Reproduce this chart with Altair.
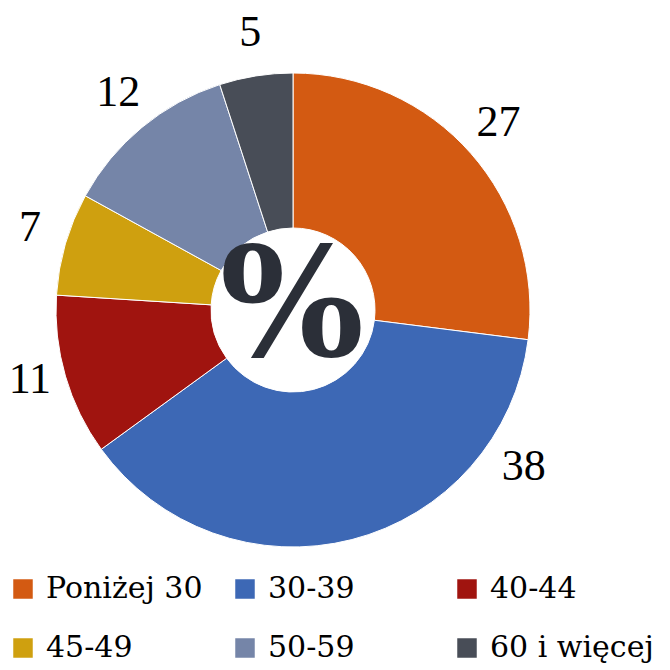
import altair as alt
import pandas as pd

categories = ["Poniżej 30", "30-39", "40-44", "45-49", "50-59", "60 i więcej"]
values = [27, 38, 11, 7, 12, 5]
colors = ["#D35A12", "#3D68B5", "#A0140F", "#CFA00F", "#7585A8", "#484D57"]
center_label = ["%"]

df = pd.DataFrame({"kategoria": categories, "wartosc": values, "kolejnosc": list(range(len(values)))})
center_df = pd.DataFrame({"t": center_label})

FONT = "'Liberation Serif', 'DejaVu Serif', serif"
LEGEND_FONT = "'DejaVu Serif', 'Liberation Serif', serif"
BOLD_FONT = "'DejaVu Serif', 'Liberation Serif', serif"
CX, CY = 285, 302

color_enc = alt.Color(
    "kategoria:N",
    sort=categories,
    scale=alt.Scale(domain=categories, range=colors),
    legend=alt.Legend(
        title=None,
        orient="none",
        legendX=0,
        legendY=566,
        direction="horizontal",
        columns=3,
        gridAlign="all",
        columnPadding=20,
        rowPadding=29,
        symbolType="square",
        symbolSize=380,
        symbolStrokeWidth=0,
        labelFont=LEGEND_FONT,
        labelFontSize=30,
        labelColor="#000000",
        labelOffset=8,
        labelLimit=400,
    ),
)

base = alt.Chart(df).encode(
    theta=alt.Theta("wartosc:Q", stack=True),
    order=alt.Order("kolejnosc:Q"),
    x=alt.value(CX),
    y=alt.value(CY),
)

arcs = base.mark_arc(innerRadius=82, outerRadius=237, stroke="#ffffff", strokeWidth=1).encode(
    color=color_enc,
)

# Excel's "best fit" moves the largest slice's label up beside the ring
is_big = alt.datum.kategoria == "30-39"
labels = base.mark_text(radius=274, dy=-6, font=FONT, fontSize=44, color="#000000").encode(
    text=alt.condition(is_big, alt.value(""), alt.Text("wartosc:Q")),
)
label_big = base.mark_text(radius=284, dx=160, dy=-118, font=FONT, fontSize=44, color="#000000").encode(
    text=alt.condition(is_big, alt.Text("wartosc:Q"), alt.value("")),
)

center = alt.Chart(center_df).mark_text(
    font=BOLD_FONT, fontSize=152, fontWeight="bold", color="#2B2F38", baseline="middle"
).encode(text="t:N", x=alt.value(CX - 1), y=alt.value(CY))

chart = (
    alt.layer(arcs, labels, label_big, center)
    .properties(width=654, height=662, autosize=alt.AutoSizeParams(type="none"), padding=0)
    .configure_view(stroke=None)
)

chart.save("out.html", embed_options={"renderer": "svg", "actions": False})
